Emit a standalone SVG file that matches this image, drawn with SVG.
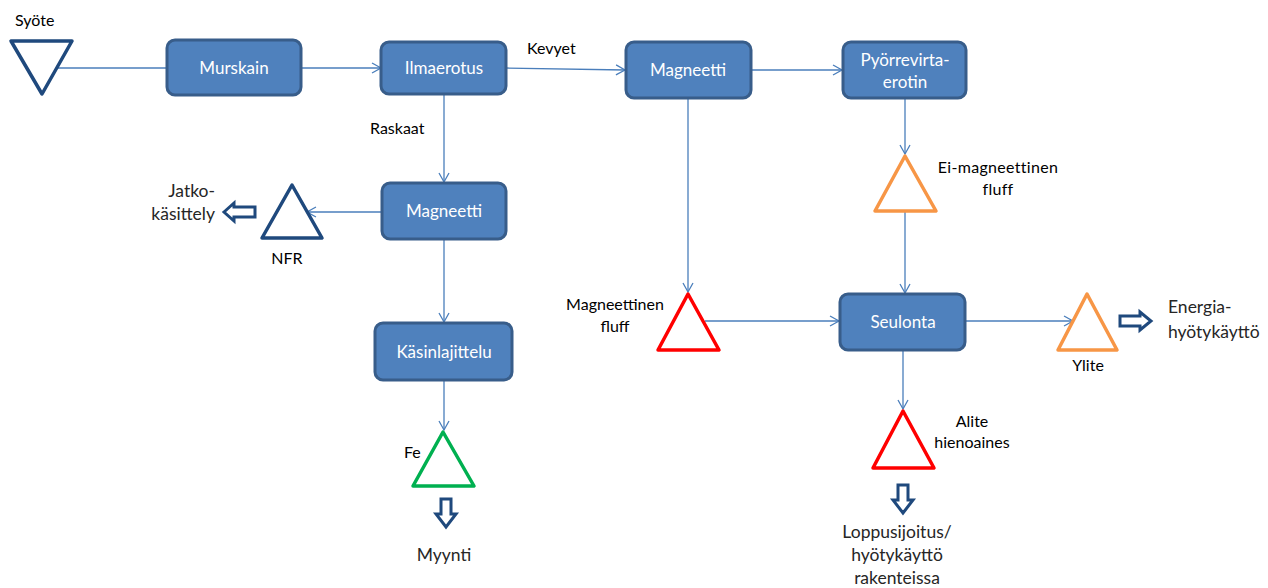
<svg xmlns="http://www.w3.org/2000/svg" width="1268" height="588" viewBox="0 0 1268 588">
<defs>
<marker id="arr" markerWidth="12" markerHeight="12" refX="10" refY="6" orient="auto" markerUnits="userSpaceOnUse">
<path d="M1,1 L10,6 L1,11" fill="none" stroke="#4A7EBB" stroke-width="1.3"/>
</marker>
</defs>
<style>
.box{fill:#4F81BD;stroke:#385D8A;stroke-width:3}
.bt{font-family:Lato,"Open Sans","Liberation Sans",sans-serif;font-size:17px;fill:#fff;text-anchor:middle}
.lb{font-family:Lato,"Open Sans","Liberation Sans",sans-serif;font-size:16px;fill:#000}
.lg{font-family:Lato,"Open Sans","Liberation Sans",sans-serif;font-size:17.5px;fill:#262626}
.c{fill:none;stroke:#4A7EBB;stroke-width:1.3}
.tb{fill:none;stroke:#1F497D;stroke-width:3.5;stroke-linejoin:round}
.tr{fill:none;stroke:#FF0000;stroke-width:3.5;stroke-linejoin:round}
.to{fill:none;stroke:#F79646;stroke-width:3.5;stroke-linejoin:round}
.tg{fill:none;stroke:#00B050;stroke-width:3.5;stroke-linejoin:round}
.ba{fill:#fff;stroke:#1F497D;stroke-width:3;stroke-linejoin:miter}
</style>
<rect width="1268" height="588" fill="#fff"/>

<g id="connectors">
<path class="c" d="M58,68 L167,68"/>
<path class="c" d="M301,68 L381,68" marker-end="url(#arr)"/>
<path class="c" d="M506,68 L625,70" marker-end="url(#arr)"/>
<path class="c" d="M751,70 L842,70" marker-end="url(#arr)"/>
<path class="c" d="M444,94 L444,182" marker-end="url(#arr)"/>
<path class="c" d="M382,212 L307,212" marker-end="url(#arr)"/>
<path class="c" d="M444,239 L444,322" marker-end="url(#arr)"/>
<path class="c" d="M444,380 L444,430" marker-end="url(#arr)"/>
<path class="c" d="M688,98 L688,292" marker-end="url(#arr)"/>
<path class="c" d="M905,98 L905,154" marker-end="url(#arr)"/>
<path class="c" d="M905,211 L905,293" marker-end="url(#arr)"/>
<path class="c" d="M705,321 L839,321" marker-end="url(#arr)"/>
<path class="c" d="M965,321 L1073,321" marker-end="url(#arr)"/>
<path class="c" d="M903,350 L903,409" marker-end="url(#arr)"/>
</g>

<g id="syote">
<path class="tb" d="M11,41 L72,41 L42,94 Z"/>
<text class="lb" x="15" y="26" font-size="17.5">Syöte</text>
</g>
<g id="murskain">
<rect class="box" x="167" y="40" width="134" height="55" rx="8"/>
<text class="bt" x="234" y="74">Murskain</text>
</g>
<g id="ilmaerotus">
<rect class="box" x="381" y="42" width="125" height="52" rx="8"/>
<text class="bt" x="444" y="74">Ilmaerotus</text>
</g>
<g id="kevyet"><text class="lb" x="527" y="54">Kevyet</text></g>
<g id="raskaat"><text class="lb" x="370" y="134">Raskaat</text></g>
<g id="magneetti1">
<rect class="box" x="626" y="42" width="125" height="56" rx="8"/>
<text class="bt" x="688" y="76">Magneetti</text>
</g>
<g id="pyorrevirta">
<rect class="box" x="843" y="42" width="123" height="56" rx="8"/>
<text class="bt" x="905" y="66">Pyörrevirta-</text>
<text class="bt" x="905" y="88">erotin</text>
</g>
<g id="magneetti2">
<rect class="box" x="382" y="183" width="124" height="56" rx="8"/>
<text class="bt" x="444" y="217">Magneetti</text>
</g>
<g id="nfr">
<path class="tb" d="M292,185 L322,238 L262,238 Z"/>
<text class="lb" x="287" y="264" text-anchor="middle" font-size="17">NFR</text>
</g>
<g id="jatko">
<path class="ba" d="M224,212 L234,203 L234,207 L255,207 L255,217 L234,217 L234,221 Z"/>
<text class="lg" x="215" y="197" text-anchor="end">Jatko-</text>
<text class="lg" x="215" y="220" text-anchor="end">käsittely</text>
</g>
<g id="kasinlajittelu">
<rect class="box" x="375" y="323" width="137" height="57" rx="8"/>
<text class="bt" x="444" y="358">Käsinlajittelu</text>
</g>
<g id="fe">
<path class="tg" d="M443,432 L474,486 L413,486 Z"/>
<text class="lb" x="404" y="458" font-size="17.5">Fe</text>
</g>
<g id="myynti">
<path class="ba" d="M441,499 L451,499 L451,514 L456,514 L446,527 L436,514 L441,514 Z"/>
<text class="lg" x="444" y="561" text-anchor="middle">Myynti</text>
</g>
<g id="eimagneettinen">
<path class="to" d="M905,156 L936,211 L875,211 Z"/>
<text class="lb" x="998" y="173" text-anchor="middle" font-size="15.5" letter-spacing="0.3">Ei-magneettinen</text>
<text class="lb" x="998" y="195" text-anchor="middle" font-size="15.5" letter-spacing="0.3">fluff</text>
</g>
<g id="magneettinen">
<path class="tr" d="M688,294 L719,350 L658,350 Z"/>
<text class="lb" x="615" y="310" text-anchor="middle">Magneettinen</text>
<text class="lb" x="615" y="332" text-anchor="middle">fluff</text>
</g>
<g id="seulonta">
<rect class="box" x="840" y="294" width="125" height="56" rx="8"/>
<text class="bt" x="903" y="328">Seulonta</text>
</g>
<g id="ylite">
<path class="to" d="M1087,294 L1117,350 L1058,350 Z"/>
<text class="lb" x="1088" y="371" text-anchor="middle" font-size="17">Ylite</text>
</g>
<g id="energia">
<path class="ba" d="M1120,316 L1140,316 L1140,312 L1151,321 L1140,330 L1140,326 L1120,326 Z"/>
<text class="lg" x="1168" y="313">Energia-</text>
<text class="lg" x="1168" y="338">hyötykäyttö</text>
</g>
<g id="alite">
<path class="tr" d="M903,411 L934,468 L873,468 Z"/>
<text class="lb" x="972" y="427" text-anchor="middle">Alite</text>
<text class="lb" x="972" y="448" text-anchor="middle">hienoaines</text>
</g>
<g id="loppusijoitus">
<path class="ba" d="M898,485 L908,485 L908,500 L913,500 L903,513 L893,500 L898,500 Z"/>
<text class="lg" x="897" y="538" text-anchor="middle">Loppusijoitus/</text>
<text class="lg" x="897" y="561" text-anchor="middle">hyötykäyttö</text>
<text class="lg" x="897" y="584" text-anchor="middle">rakenteissa</text>
</g>
</svg>
